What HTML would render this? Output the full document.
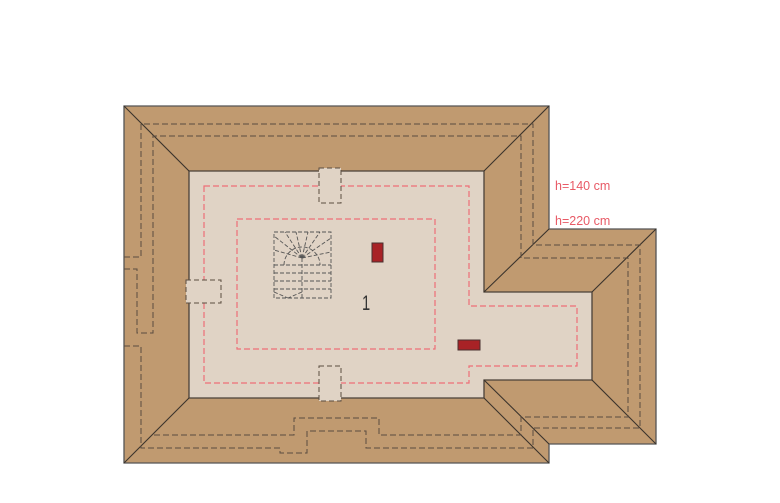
<!DOCTYPE html>
<html><head><style>
html,body{margin:0;padding:0;background:#fff;}
svg{display:block;}
</style></head><body>
<svg width="780" height="503" viewBox="0 0 780 503" xmlns="http://www.w3.org/2000/svg">
<path d="M124,106 H549 V229 H656 V444 H549 V463 H124 Z" fill="#c09a70" stroke="#555" stroke-width="1.3"/>
<path d="M189,171 H484 V292 H592 V380 H484 V398 H189 Z" fill="#e0d3c5" stroke="#4a4038" stroke-width="1.3"/>
<g stroke="#3a332c" stroke-width="1.1" fill="none">
<line x1="124" y1="106" x2="189" y2="171"/>
<line x1="549" y1="106" x2="484" y2="171"/>
<line x1="124" y1="463" x2="189" y2="398"/>
<line x1="484" y1="398" x2="549" y2="463"/>
<line x1="484" y1="380" x2="549" y2="444"/>
<line x1="549" y1="229" x2="484" y2="292"/>
<line x1="656" y1="229" x2="592" y2="292"/>
<line x1="656" y1="444" x2="592" y2="380"/>
</g>
<g stroke="#5a4c40" stroke-width="1" fill="none" stroke-dasharray="6,3">
<path d="M124,257 H141 V124 H533 V245 H640 V428 H533 V448 H366 V431 H307 V453 H280 V448 H141 V346 H124"/>
<path d="M124,269 H137 V333 H153 V136 H521 V258 H628 V417 H521 V435 H379 V418 H294 V435 H153"/>
</g>
<g stroke="#ee6f78" stroke-width="1.2" fill="none" stroke-dasharray="6,3">
<path d="M204,186 H469 V306 H577 V366 H469 V383 H204 Z"/>
<rect x="237" y="219" width="198" height="130"/>
</g>
<g fill="#e0d3c5" stroke="#5a4c40" stroke-width="1">
<rect x="319" y="168" width="22" height="35" stroke-dasharray="5,3"/>
<rect x="186" y="280" width="35" height="23" stroke-dasharray="5,3"/>
<rect x="319" y="366" width="22" height="35" stroke-dasharray="5,3"/>
</g>
<rect x="372" y="243" width="11" height="19" fill="#a82226" stroke="#4a3030" stroke-width="1"/>
<rect x="458" y="340" width="22" height="10" fill="#a82226" stroke="#4a3030" stroke-width="1"/>
<g stroke="#555" stroke-width="0.9" fill="none" stroke-dasharray="4,2">
<rect x="274" y="232" width="57" height="66"/>
<line x1="302" y1="258" x2="302" y2="298"/>
<line x1="274" y1="265" x2="331" y2="265"/>
<line x1="274" y1="273" x2="331" y2="273"/>
<line x1="274" y1="281" x2="331" y2="281"/>
<line x1="274" y1="289" x2="331" y2="289"/>
<line x1="302" y1="258" x2="274" y2="236"/>
<line x1="302" y1="258" x2="285" y2="232"/>
<line x1="302" y1="258" x2="296" y2="232"/>
<line x1="302" y1="258" x2="308" y2="232"/>
<line x1="302" y1="258" x2="320" y2="232"/>
<line x1="302" y1="258" x2="331" y2="238"/>
<line x1="302" y1="258" x2="274" y2="250"/>
<line x1="302" y1="258" x2="331" y2="252"/>
<path d="M284,265 A18,18 0 0 1 320,265"/>
<line x1="274" y1="292" x2="288" y2="298"/>
<line x1="302" y1="292" x2="288" y2="298"/>
</g>
<text x="0" y="0" transform="translate(362,310) scale(0.7,1)" font-family="Liberation Sans, sans-serif" font-size="21" fill="#333">1</text>
<text x="555" y="190" font-family="Liberation Sans, sans-serif" font-size="12.5" fill="#e85a66">h=140 cm</text>
<text x="555" y="225" font-family="Liberation Sans, sans-serif" font-size="12.5" fill="#e85a66">h=220 cm</text>
</svg>
</body></html>
